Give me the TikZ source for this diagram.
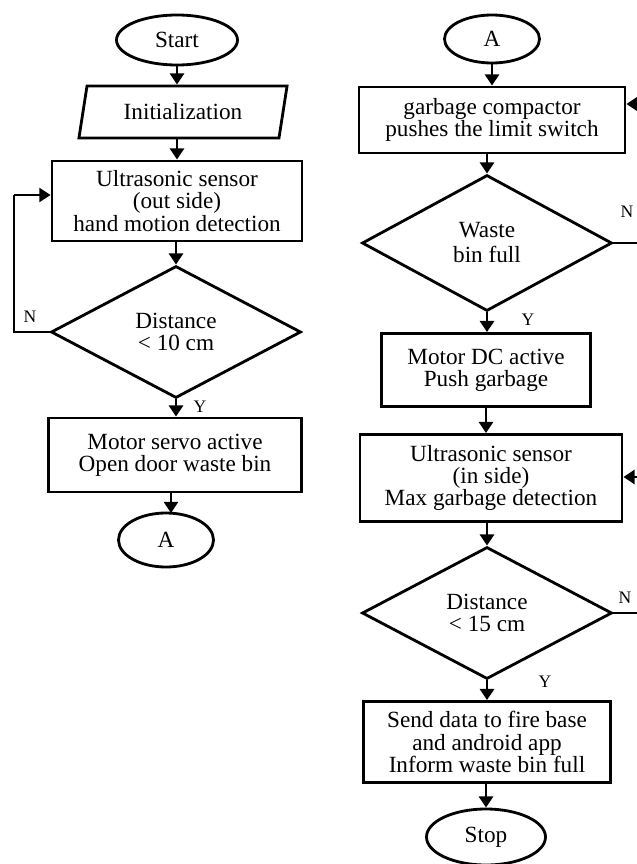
\documentclass[tikz,border=0pt]{standalone}
\usepackage{fontspec}
\setmainfont{Liberation Serif}
\usetikzlibrary{shapes.geometric,arrows.meta}

\begin{document}
\begin{tikzpicture}[x=0.25mm,y=-0.25mm,
  every node/.style={font=\fontsize{16.5}{15.8}\selectfont,align=center,inner sep=0pt},
  term/.style={draw,ellipse,line width=2pt},
  proc/.style={draw,rectangle,line width=2pt},
  decis/.style={draw,diamond,line width=2pt,minimum width=62.5mm,minimum height=33mm},
  arr/.style={line width=2pt,-{Triangle[width=10pt,length=8pt]}},
  lbl/.style={font=\fontsize{12.5}{12.5}\selectfont}]
\useasboundingbox (0,0) rectangle (636,864);

% left column
\node[term,minimum width=30.25mm,minimum height=12.5mm] (start) at (177,40) {Start};
\node[draw,trapezium,trapezium left angle=73,trapezium right angle=107,trapezium stretches=true,
  line width=2pt,minimum width=52.25mm,minimum height=13mm] (init) at (183,112) {Initialization};
\node[proc,minimum width=62.5mm,minimum height=20mm] (usout) at (177,201)
  {Ultrasonic sensor\\(out side)\\hand motion detection};
\node[decis] (dist1) at (176,332) {Distance\\\textless{} 10 cm};
\node[proc,minimum width=63.25mm,minimum height=18.5mm] (servo) at (175,455)
  {Motor servo active\\Open door waste bin};
\node[term,minimum width=23.75mm,minimum height=13.5mm] (conA) at (166,540) {A};

\draw[arr] (start.south) -- (start.south |- init.north);
\draw[arr] (init.south -| usout) -- (usout.north);
\draw[arr] (usout.south -| dist1) -- (dist1.north);
\draw[arr] (dist1.south) -- (dist1 |- servo.north);
\draw[arr] (servo.south -| 171,0) -- (171,513);
\coordinate (lp) at (14,195);
\draw[line width=1.3pt] (dist1.west) -| (lp);
\draw[arr,line width=1.3pt] (lp) -- (lp -| usout.west);
\node[lbl] (n1) at (30,317) {N};
\node[lbl] (y1) at (200,407) {Y};

% right column
\node[term,minimum width=23.75mm,minimum height=12mm] (conA2) at (492,39) {A};
\node[proc,minimum width=66.5mm,minimum height=16.5mm] (compact) at (492,120)
  {garbage compactor\\pushes the limit switch};
\node[decis,minimum height=34mm] (full) at (487,243) {Waste\\[2pt]bin full};
\node[proc,minimum width=52.25mm,minimum height=18.25mm] (dcmot) at (486,370)
  {Motor DC active\\Push garbage};
\node[proc,minimum width=65.5mm,minimum height=21.75mm] (usin) at (491,478)
  {Ultrasonic sensor\\(in side)\\Max garbage detection};
\node[decis] (dist2) at (487,613) {Distance\\\textless{} 15 cm};
\node[proc,minimum width=61.75mm,minimum height=20.25mm] (send) at (487,742)
  {Send data to fire base\\and android app\\Inform waste bin full};
\node[term,minimum width=29.75mm,minimum height=14mm] (stop) at (486,837) {Stop};

\draw[arr] (conA2.south) -- (conA2.south |- compact.north);
\draw[arr] (compact.south -| full) -- (full.north);
\draw[arr] (full.south) -- (full.south |- dcmot.north);
\draw[arr] (dcmot.south) -- (dcmot.south |- usin.north);
\draw[arr] (usin.south -| dist2) -- (dist2.north);
\draw[arr] (dist2.south) -- (send.north);
\draw[arr] (send.south -| stop) -- (stop.north);

% loops running off the right edge
\coordinate (in1) at (640,104);
\coordinate (in2) at (640,477);
\draw[arr] (in1) -- (in1 -| compact.east);
\draw[arr] (in2) -- (in2 -| usin.east);
\draw[line width=1.3pt] (full.east) -- (640,243);
\draw[line width=1.3pt] (dist2.east) -- (640,613);
\node[lbl] (n2) at (627,212) {N};
\node[lbl] (y2) at (528,320) {Y};
\node[lbl] (n3) at (625,598) {N};
\node[lbl] (y3) at (545,682) {Y};
\end{tikzpicture}
\end{document}
